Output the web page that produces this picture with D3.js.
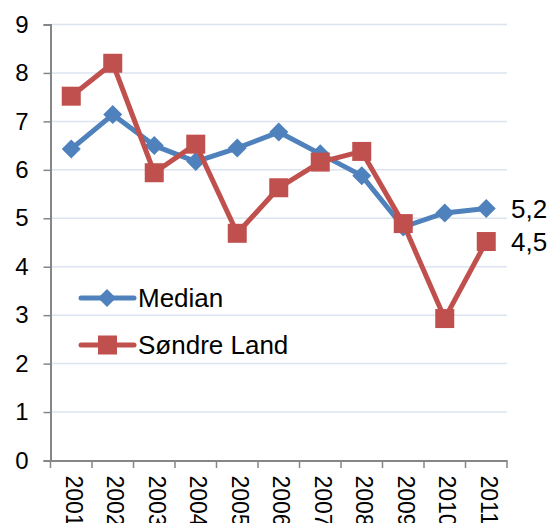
<!DOCTYPE html>
<html><head><meta charset="utf-8">
<script src="https://cdn.jsdelivr.net/npm/d3@7"></script>
<style>
html,body{margin:0;padding:0;background:#fff;}
text{font-family:"Liberation Sans",Arial,sans-serif;fill:#000;}
</style></head>
<body>
<svg id="c" width="550" height="523"></svg>
<script>
const years = ["2001","2002","2003","2004","2005","2006","2007","2008","2009","2010","2011"];
const median = [6.43,7.14,6.5,6.17,6.45,6.78,6.33,5.88,4.82,5.11,5.2];
const sondreLand = [7.52,8.2,5.94,6.53,4.69,5.63,6.16,6.38,4.89,2.93,4.52];
const yTicks = [0,1,2,3,4,5,6,7,8,9];
const seriesNames = ["Median","Søndre Land"];
const endLabels = ["5,2","4,5"];

const svg = d3.select("#c");
const x = d3.scaleBand().domain(years).range([50.5,507]);
const y = d3.scaleLinear().domain([0,9]).range([460.5,24.5]);
const blue = "#4f81bd", red = "#c0504d";

// gridlines
svg.append("g").selectAll("line").data(yTicks.filter(d=>d>0)).join("line")
  .attr("x1",50.5).attr("x2",507).attr("y1",d=>y(d)).attr("y2",d=>y(d))
  .attr("stroke","#dbe4f0").attr("stroke-width",1.5);

// y axis
const ya = svg.append("g").attr("transform","translate(50.5,0)")
  .call(d3.axisLeft(y).tickValues(yTicks).tickSize(7).tickPadding(15).tickFormat(d3.format("d")));
ya.select(".domain").attr("stroke","#868686").attr("stroke-width",2);
ya.selectAll(".tick line").attr("stroke","#868686").attr("stroke-width",1.5);
ya.selectAll("text").style("font-size","24px").attr("fill","#000").attr("font-family","Liberation Sans, Arial, sans-serif");

// x axis
const xa = svg.append("g").attr("transform","translate(0,460.5)")
  .call(d3.axisBottom(x).tickSize(0).tickPadding(0));
xa.select(".domain").attr("stroke","#868686").attr("stroke-width",2);
xa.selectAll(".tick text").style("font-size","23px").attr("fill","#000")
  .attr("font-family","Liberation Sans, Arial, sans-serif")
  .attr("text-anchor","start").attr("transform","translate(0,15) rotate(90)")
  .attr("y",0).attr("dy","0.24em");
// boundary ticks between categories
const bounds = years.map(d=>x(d)).concat([x.range()[1]]);
svg.append("g").selectAll("line").data(bounds).join("line")
  .attr("x1",d=>d).attr("x2",d=>d).attr("y1",460.5).attr("y2",468)
  .attr("stroke","#868686").attr("stroke-width",1.5);

const cx = d => x(d) + x.bandwidth()/2;
const line = d3.line().x((d,i)=>cx(years[i])).y(d=>y(d));

// median
svg.append("path").datum(median).attr("d",line).attr("fill","none")
  .attr("stroke",blue).attr("stroke-width",5).attr("stroke-linejoin","round");
const dia = 9.5;
svg.append("g").selectAll("path").data(median).join("path")
  .attr("d",(d,i)=>{const px=cx(years[i]),py=y(d);return `M${px},${py-dia}L${px+dia},${py}L${px},${py+dia}L${px-dia},${py}Z`;})
  .attr("fill",blue);

// sondre land
svg.append("path").datum(sondreLand).attr("d",line).attr("fill","none")
  .attr("stroke",red).attr("stroke-width",5).attr("stroke-linejoin","round");
const sq = 9.5;
svg.append("g").selectAll("rect").data(sondreLand).join("rect")
  .attr("x",(d,i)=>cx(years[i])-sq).attr("y",d=>y(d)-sq)
  .attr("width",sq*2).attr("height",sq*2).attr("fill",red);

// end labels
const lastVals = [median[median.length-1], sondreLand[sondreLand.length-1]];
svg.append("g").selectAll("text").data(endLabels).join("text")
  .attr("x",511).attr("y",(d,i)=>y(lastVals[i])).attr("dy","0.35em")
  .style("font-size","26px").text(d=>d);

// legend
const legY = [298, 345];
const lg = svg.append("g");
seriesNames.forEach((n,i)=>{
  const col = i===0?blue:red;
  lg.append("line").attr("x1",81).attr("x2",134).attr("y1",legY[i]).attr("y2",legY[i])
    .attr("stroke",col).attr("stroke-width",5).attr("stroke-linecap","round");
  if(i===0){
    lg.append("path").attr("d",`M107,${legY[i]-9}L116,${legY[i]}L107,${legY[i]+9}L98,${legY[i]}Z`).attr("fill",col);
  } else {
    lg.append("rect").attr("x",98).attr("y",legY[i]-9.5).attr("width",19).attr("height",19).attr("fill",col);
  }
  lg.append("text").attr("x",138).attr("y",legY[i]).attr("dy","0.35em")
    .style("font-size","26px").text(n);
});
</script>
</body></html>
